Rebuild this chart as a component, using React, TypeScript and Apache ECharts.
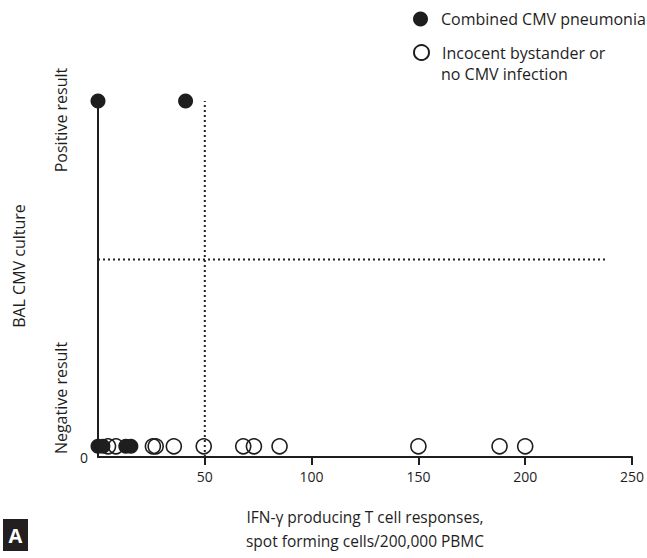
import React, { useEffect, useRef } from "react";
import * as echarts from "echarts";

const xTickValues = [50, 100, 150, 200, 250];
const NEG = 0.03;
const POS = 1;
const CUTOFF_Y = 0.555;
const CUTOFF_X = 50;
const CUTOFF_X_END = 238;

const pneumoniaNegX = [0, 2.3, 13, 15.4];
const pneumoniaPosX = [0, 41];
const bystanderNegX = [4.7, 8.4, 25.7, 27, 35.5, 49.5, 68, 73, 85, 150, 188, 200];

const NAME_A = "Combined CMV pneumonia";
const NAME_B = "Incocent bystander or no CMV infection";
const FONT = "'Open Sans', 'Noto Sans', sans-serif";
const INK = "#1e1e1e";

export default function App() {
  const ref = useRef<HTMLDivElement>(null);
  useEffect(() => {
    if (!ref.current) return;
    const chart = echarts.init(ref.current, undefined, { renderer: "svg" });
    const legendCommon = {
      orient: "vertical",
      left: 413,
      padding: 0,
      icon: "circle",
      itemWidth: 31,
      itemHeight: 15,
      textStyle: { fontSize: 16, color: INK, fontFamily: FONT },
    };
    chart.setOption({
      animation: false,
      textStyle: { fontFamily: FONT, color: INK },
      grid: { left: 98, right: 14, top: 101, bottom: 100 },
      legend: [
        { ...legendCommon, data: [NAME_A], top: 11 },
        { ...legendCommon, data: [NAME_B], top: 44, formatter: () => "Incocent bystander or" },
      ],
      xAxis: {
        type: "value",
        min: 0,
        max: 250,
        interval: 50,
        axisLine: { show: true, onZero: false, lineStyle: { color: INK, width: 2 } },
        axisTick: { show: true, length: 8, customValues: xTickValues, lineStyle: { color: INK, width: 2 } },
        axisLabel: { customValues: xTickValues, fontSize: 14, color: INK, margin: 12, fontFamily: FONT },
        splitLine: { show: false },
        name: "IFN-γ producing T cell responses,\nspot forming cells/200,000 PBMC",
        nameLocation: "middle",
        nameGap: 48,
        nameTextStyle: { fontSize: 15.5, lineHeight: 24, color: INK, fontFamily: FONT },
      },
      yAxis: {
        type: "value",
        min: 0,
        max: 1,
        axisLine: { show: true, onZero: false, lineStyle: { color: INK, width: 2 } },
        axisTick: { show: false },
        axisLabel: { customValues: [0], fontSize: 14, color: INK, margin: 10, fontFamily: FONT },
        splitLine: { show: false },
      },
      series: [
        {
          name: "cutoff-h",
          type: "line",
          data: [[0, CUTOFF_Y], [CUTOFF_X_END, CUTOFF_Y]],
          symbol: "none",
          lineStyle: { color: "#222", width: 2, type: [2, 3] },
          z: 1,
          silent: true,
        },
        {
          name: "cutoff-v",
          type: "line",
          data: [[CUTOFF_X, 0], [CUTOFF_X, POS]],
          symbol: "none",
          lineStyle: { color: "#222", width: 2, type: [2, 3] },
          z: 1,
          silent: true,
        },
        {
          name: NAME_B,
          type: "scatter",
          symbol: "circle",
          symbolSize: 15,
          itemStyle: { color: "rgba(255,255,255,0)", borderColor: INK, borderWidth: 1.6, opacity: 1 },
          data: bystanderNegX.map((x) => [x, NEG]),
          z: 2,
        },
        {
          name: NAME_A,
          type: "scatter",
          symbol: "circle",
          symbolSize: 15,
          itemStyle: { color: INK, opacity: 1 },
          data: [...pneumoniaNegX.map((x) => [x, NEG]), ...pneumoniaPosX.map((x) => [x, POS])],
          z: 3,
        },
      ],
      graphic: [
        {
          type: "text",
          x: 441,
          y: 74,
          style: { text: "no CMV infection", fontSize: 16, fontFamily: FONT, fill: INK, align: "left", verticalAlign: "middle" },
        },
        {
          type: "text",
          x: 19,
          y: 266,
          rotation: Math.PI / 2,
          style: { text: "BAL CMV culture", fontSize: 16, fontFamily: FONT, fill: INK, align: "center", verticalAlign: "middle" },
        },
        {
          type: "text",
          x: 61,
          y: 120,
          rotation: Math.PI / 2,
          style: { text: "Positive result", fontSize: 16, fontFamily: FONT, fill: INK, align: "center", verticalAlign: "middle" },
        },
        {
          type: "text",
          x: 61,
          y: 398,
          rotation: Math.PI / 2,
          style: { text: "Negative result", fontSize: 16, fontFamily: FONT, fill: INK, align: "center", verticalAlign: "middle" },
        },
        {
          type: "rect",
          shape: { x: 3, y: 519, width: 25, height: 32 },
          style: { fill: "#231f20" },
        },
        {
          type: "text",
          x: 15.5,
          y: 535,
          style: { text: "A", fontSize: 20, fontWeight: "bold", fontFamily: FONT, fill: "#fff", align: "center", verticalAlign: "middle" },
        },
      ],
    });
    return () => chart.dispose();
  }, []);
  return <div ref={ref} style={{ position: "absolute", left: 0, top: 0, width: 647, height: 558 }} />;
}
